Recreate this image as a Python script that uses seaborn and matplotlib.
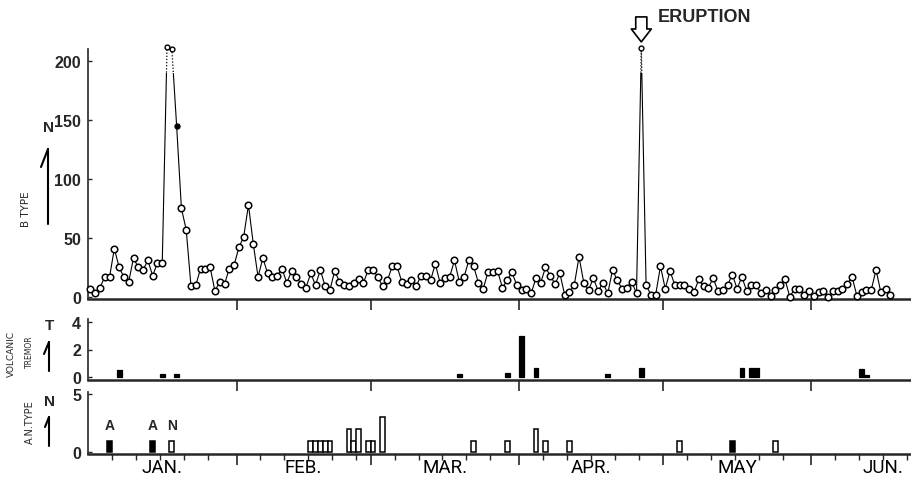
import numpy as np
import pandas as pd
import matplotlib
matplotlib.use("Agg")
import matplotlib.pyplot as plt
import seaborn as sns
from matplotlib.patches import Rectangle
from matplotlib.lines import Line2D

# daily number of B-type earthquakes, Jan 1 .. Jun 17
b_type = [7, 3, 8, 17, 17, 41, 25, 17, 13, 33,
          25, 23, 31, 18, 29, 29, 212, 210, 145, 75,
          57, 9, 10, 24, 24, 25, 5, 13, 11, 24,
          27, 42, 51, 78, 45, 17, 33, 20, 17, 18,
          24, 12, 22, 17, 11, 8, 20, 10, 23, 9,
          6, 22, 13, 10, 9, 12, 15, 12, 23, 23,
          17, 9, 14, 26, 26, 13, 11, 14, 9, 18,
          18, 14, 28, 12, 16, 17, 31, 13, 17, 31,
          26, 12, 7, 21, 21, 22, 8, 14, 21, 10,
          6, 7, 3, 16, 12, 25, 18, 11, 20, 2,
          4, 10, 34, 12, 6, 16, 5, 12, 3, 23,
          14, 7, 8, 13, 3, 211, 10, 2, 2, 26,
          7, 22, 10, 10, 10, 7, 4, 15, 9, 8,
          16, 5, 6, 10, 19, 7, 17, 5, 10, 10,
          3, 6, 1, 6, 10, 15, 0, 7, 7, 2,
          5, 1, 4, 5, 0, 5, 5, 7, 11, 17,
          1, 4, 6, 6, 23, 4, 7, 2]
eruption_day = 116

# volcanic tremor (day of year, value)
tremor_days = [7, 16, 19, 78, 88, 91, 94, 109, 116, 137, 139, 140, 162, 163]
tremor_values = [0.5, 0.2, 0.2, 0.2, 0.3, 3.0, 0.7, 0.2, 0.7, 0.7, 0.7, 0.7, 0.6, 0.15]

# A-type / N-type earthquakes
an_days = [5, 14, 18, 47, 48, 49, 50, 51, 55, 56, 57, 59, 60, 62,
           81, 88, 94, 96, 101, 124, 135, 144]
an_counts = [1, 1, 1, 1, 1, 1, 1, 1, 2, 1, 2, 1, 1, 3,
             1, 1, 2, 1, 1, 1, 1, 1]
an_types = ["A", "A", "N", "N", "N", "N", "N", "N", "N", "N", "N", "N", "N", "N",
            "N", "N", "N", "N", "N", "N", "A", "N"]
an_labelled = [5, 14, 18]

month_names = ["JAN.", "FEB.", "MAR.", "APR.", "MAY", "JUN."]
month_lengths = [31, 28, 31, 30, 31, 30]
x_end = 171.8

sns.set_style("ticks")
plt.rcParams["font.family"] = ["Liberation Sans", "DejaVu Sans"]

W, H = 911, 489
fig = plt.figure(figsize=(W / 100, H / 100), dpi=100)

def box(x0, y_top, x1, y_bot):
    return [x0 / W, 1 - y_bot / H, (x1 - x0) / W, (y_bot - y_top) / H]

ax1 = fig.add_axes(box(88, 50, 911, 300))
ax2 = fig.add_axes(box(88, 320, 911, 381), sharex=ax1)
ax3 = fig.add_axes(box(88, 393, 911, 455), sharex=ax1)

# ---- B type panel
days = np.arange(1, len(b_type) + 1)
t = days - 0.5
b = np.array(b_type)

sns.lineplot(x=t, y=b, ax=ax1, color="black", lw=0.8, sort=False, errorbar=None)
ax1.lines[-1].set_clip_path(Rectangle((0, -10), 200, 200, transform=ax1.transData))
sns.lineplot(x=t, y=b, ax=ax1, color="black", lw=0.9, ls=(0, (1, 1.5)), sort=False, errorbar=None)
ax1.lines[-1].set_clip_path(Rectangle((0, 190), 200, 100, transform=ax1.transData))

special_small = np.isin(days, [17, 18, eruption_day])
special_filled = np.isin(days, [19])
normal = ~(special_small | special_filled)
sns.scatterplot(x=t[normal], y=b[normal], ax=ax1, s=22, marker="o", facecolor="white",
                edgecolor="black", linewidth=1.1, zorder=3, clip_on=False)
sns.scatterplot(x=t[special_small], y=b[special_small], ax=ax1, s=12, marker="o",
                facecolor="white", edgecolor="black", linewidth=1.0, zorder=3, clip_on=False)
sns.scatterplot(x=t[special_filled], y=b[special_filled], ax=ax1, s=14, marker="o",
                color="black", edgecolor="black", linewidth=0.8, zorder=3, clip_on=False)

ax1.set_ylim(-1.7, 210)
ax1.set_yticks([0, 50, 100, 150, 200])

te = eruption_day - 0.5
ax1.annotate("", xy=(te, 216), xytext=(0, 18), textcoords="offset points",
             arrowprops=dict(arrowstyle="simple,head_length=0.93,head_width=1.44,tail_width=0.8",
                             fc="white", ec="black", lw=1.2, shrinkA=0, shrinkB=0,
                             mutation_scale=10),
             annotation_clip=False)
ax1.annotate("ERUPTION", xy=(te, 216), xytext=(11.5, 18), textcoords="offset points",
             ha="left", va="center", fontsize=13, fontweight="bold", annotation_clip=False)

# ---- volcanic tremor panel
sns.barplot(x=np.array(tremor_days) - 0.5, y=tremor_values, ax=ax2, native_scale=True,
            color="black", edgecolor="black", linewidth=0.9, width=1.0, errorbar=None,
            saturation=1, orient="x")
ax2.set_ylim(-0.2, 4.2)
ax2.set_yticks([0, 2, 4])

# ---- A / N type panel
an_df = pd.DataFrame({"t": np.array(an_days) - 0.5, "n": an_counts, "kind": an_types})
sns.barplot(data=an_df, x="t", y="n", hue="kind", palette={"A": "black", "N": "white"},
            edgecolor="black", linewidth=1.1, native_scale=True, dodge=False, width=1.0,
            errorbar=None, saturation=1, legend=False, ax=ax3, orient="x")
for d in an_labelled:
    i = an_days.index(d)
    ax3.text(d - 0.5, an_counts[i] + 1.35, an_types[i], ha="center", va="center",
             fontsize=10, fontweight="bold")
ax3.set_ylim(-0.15, 5.15)
ax3.set_yticks([0, 5])

# ---- shared x axis
starts = np.cumsum([0] + month_lengths[:-1])
minor = [s + k for s in starts for k in (5, 10, 15, 20, 25) if s + k < x_end]
for ax in (ax1, ax2, ax3):
    ax.set(xlabel="", ylabel="")
    ax.set_xticks(starts[1:])
    ax.set_xticks(minor, minor=True)
    ax.set_xlim(0, x_end)
    ax.tick_params(axis="x", which="major", direction="out", length=8, width=1.2, labelbottom=False)
    ax.tick_params(axis="y", direction="in", length=3, width=1.0, pad=5, labelsize=11.5)
    for lab in ax.get_yticklabels():
        lab.set_fontweight("bold")
    sns.despine(ax=ax, top=True, right=True)
    ax.spines["bottom"].set_linewidth(1.8)
    ax.spines["left"].set_linewidth(1.2)
ax1.tick_params(axis="x", which="minor", length=0)
ax2.tick_params(axis="x", which="minor", length=0)
ax3.tick_params(axis="x", which="minor", direction="out", length=4, width=1.0)

for name, s, n in zip(month_names, starts, month_lengths):
    ax3.text(s + n / 2, -0.21, name, transform=ax3.get_xaxis_transform(),
             ha="center", va="center", fontsize=13.5, family=["Roboto", "DejaVu Sans"],
             color="black")

# ---- side labels
def px(x, y):
    return x / W, 1 - y / H

fig.text(*px(48.5, 127.5), "N", ha="center", va="center", fontsize=11, fontweight="bold")
fig.text(*px(49.5, 326), "T", ha="center", va="center", fontsize=11, fontweight="bold")
fig.text(*px(49.5, 402), "N", ha="center", va="center", fontsize=11, fontweight="bold")
fig.text(*px(26, 209), "B TYPE", rotation=90, ha="center", va="center", fontsize=7.5,
         family=["DejaVu Sans"])
fig.text(*px(11.5, 354), "VOLCANIC", rotation=90, ha="center", va="center", fontsize=6.5,
         family=["DejaVu Sans"])
fig.text(*px(29, 352), "TREMOR", rotation=90, ha="center", va="center", fontsize=5.5,
         family=["DejaVu Sans"])
fig.text(*px(29.5, 422), "A.N.TYPE", rotation=90, ha="center", va="center", fontsize=7,
         family=["DejaVu Sans"])

for (x0, y0, y1, hx, hy) in [(48, 150, 225, 41, 168), (49, 343, 372, 44, 355), (49, 418, 447, 45, 428)]:
    fig.add_artist(Line2D([x0 / W, x0 / W], [1 - y0 / H, 1 - y1 / H], color="black", lw=1.5))
    fig.add_artist(Line2D([x0 / W, hx / W], [1 - y0 / H, 1 - hy / H], color="black", lw=1.5))

fig.savefig("out.png", dpi=100)
